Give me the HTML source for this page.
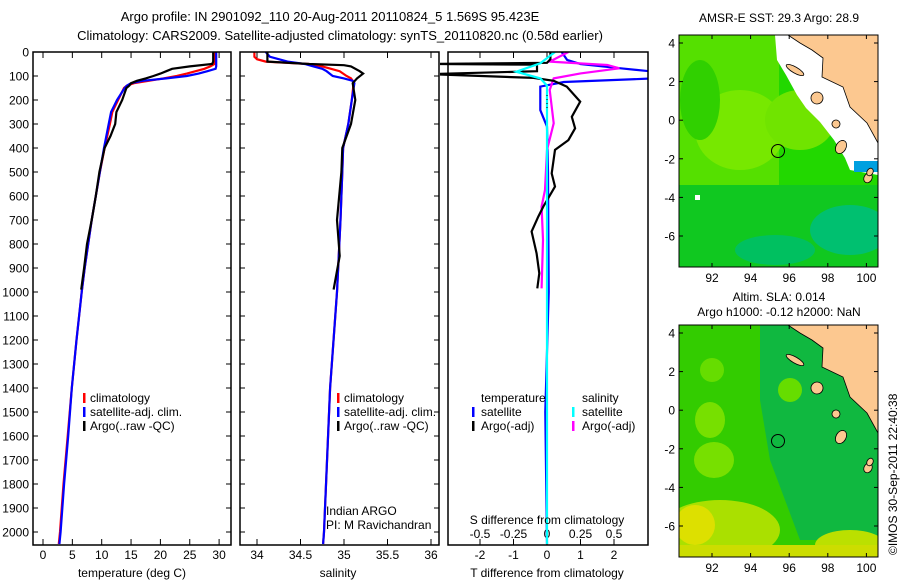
<!DOCTYPE html>
<html><head><meta charset="utf-8"><style>
body{margin:0;background:#fff;}
svg{display:block;font-family:"Liberation Sans",sans-serif;}
text{font-size:12px;fill:#000;}
</style></head><body>
<svg id="c" width="900" height="580" viewBox="0 0 900 580">
<text x="330" y="21" text-anchor="middle" style="font-size:13px">Argo profile: IN 2901092_110 20-Aug-2011 20110824_5 1.569S 95.423E</text>
<text x="340" y="40" text-anchor="middle" style="font-size:13px">Climatology: CARS2009. Satellite-adjusted climatology: synTS_20110820.nc (0.58d earlier)</text>
<g id="maps"></g>
<g id="plots"></g>
</svg>
<script>
const depthT=[0,40,50,60,70,80,90,100,110,120,130,140,150,200,250,300,400,500,600,700,800,900,1000,1200,1400,1600,1800,2000,2050];
const climT=[29.3,29.3,29.2,28.5,27.5,26,24.5,22.8,20.5,18,15.5,14.3,13.8,12.8,11.8,11.4,10.5,9.7,9.0,8.3,7.7,7.1,6.6,5.7,4.9,4.2,3.5,2.9,2.7];
const satT=[29.5,29.5,29.5,29.5,29.4,28,26.5,24.5,21,17,15,14.3,13.9,12.6,11.6,11.2,10.4,9.7,9.0,8.3,7.7,7.1,6.6,5.7,4.9,4.3,3.6,3.0,2.8];
const depthA=[0,40,50,60,70,80,90,100,110,120,130,140,150,200,250,300,350,400,500,600,700,800,900,990];
const argoT=[29,29,28.8,25,22,21,20,18.8,17.5,16,15,14.7,14.2,13.5,12.5,12.3,11.5,10.5,9.6,9.0,8.3,7.5,7.0,6.5];
const depthS=[0,20,30,40,50,60,70,80,100,110,120,130,200,300,400,500,700,1000,1400,2000,2050];
const climS=[33.97,33.97,34.0,34.1,34.6,34.75,34.85,34.95,35.03,35.08,35.1,35.11,35.09,35.05,34.99,34.98,34.96,34.92,34.84,34.77,34.76];
const satS=[34.1,34.15,34.25,34.35,34.55,34.65,34.75,34.8,34.87,35.0,35.1,35.12,35.09,35.05,34.99,34.98,34.96,34.92,34.84,34.77,34.76];
const depthAS=[0,40,50,55,60,80,90,110,130,200,300,400,500,700,850,990];
const argoS=[34.12,34.12,34.6,35.0,35.08,35.18,35.22,35.15,35.1,35.13,35.08,34.98,34.97,34.92,34.95,34.88];
const depthDT=[0,30,45,50,53,80,92,108,120,144,207,270,318,367,408,506,561,644,686,748,839,922,985];
const argoDT=[0.1,0.1,0,-3.5,-0.3,-0.3,-3.5,-0.4,0.2,0.59,0.99,0.74,0.84,0.64,0.24,0.14,0.24,-0.11,-0.26,-0.46,-0.31,-0.23,-0.29];
const depthST=[0,33,50,68,82,110,125,144,242,311,500,1000,1500,2050];
const satDT=[0.44,0.6,1.0,2.2,3.2,3.2,0.5,-0.2,-0.2,0,0.03,0.05,-0.05,0];
const depthSS=[0,47,82,110,140,500,1000,2050];
const satDS=[0.06,-0.05,-0.23,-0.05,0,0,0,0];
const depthAD=[0,40,54,68,89,110,158,297,408,575,644,783,985];
const argoDS=[0.16,0.02,0.45,0.54,0.25,0.05,0.02,0.05,0,-0.015,-0.04,-0.03,-0.04];
const depthTicks=[0,100,200,300,400,500,600,700,800,900,1000,1100,1200,1300,1400,1500,1600,1700,1800,1900,2000];
const tTicks=[0,5,10,15,20,25,30];
const sTicks=[34,34.5,35,35.5,36];
const dtTicks=[-2,-1,0,1,2];
const dsTicks=[-0.5,-0.25,0,0.25,0.5];
const dsLabels=["-0.5","-0.25","0","0.25","0.5"];

const NS="http://www.w3.org/2000/svg";
const plots=document.getElementById('plots');
function mk(tag,at,parent){const e=document.createElementNS(NS,tag);for(const k in at)e.setAttribute(k,at[k]);(parent||plots).appendChild(e);return e;}
const yD=d=>52+d*0.24;
const xT=v=>43+v*5.87;
const xS=v=>257+(v-34)*87;
const xDT=v=>547+v*33.5;
const xDS=v=>547+v*134;
const PT=[33,52,231,545],PS=[240,52,439,545],PD=[448,52,648,545];

function clip(id,p){const cp=mk('clipPath',{id:id});mk('rect',{x:p[0],y:p[1],width:p[2]-p[0],height:p[3]-p[1]},cp);}
clip('cT',PT);clip('cS',PS);clip('cD',[440,52,648,545]);

function frame(p,name){const r=mk('rect',{x:p[0],y:p[1],width:p[2]-p[0],height:p[3]-p[1],fill:'none',stroke:'#000','stroke-width':1.5});

}
function line(ds,vs,fx,col,cp,name,w){
  const pts=ds.map((d,i)=>fx(vs[i]).toFixed(1)+','+yD(d).toFixed(1)).join(' ');
  const l=mk('polyline',{points:pts,fill:'none',stroke:col,'stroke-width':w||2.2,'clip-path':'url(#'+cp+')'});
  
  
}
function xticks(p,ticks,fx,labels,ly,bottom,name){
  ticks.forEach((t,i)=>{const x=fx(t);
    const y0=bottom?p[3]:p[1];const s=bottom?-6:6;
    mk('line',{x1:x,y1:y0,x2:x,y2:y0+s,stroke:'#000'});
    if(bottom||p!==PD) mk('line',{x1:x,y1:bottom?p[1]:p[3],x2:x,y2:(bottom?p[1]:p[3])-s,stroke:'#000'});
    if(labels){const tx=mk('text',{x:x,y:ly,'text-anchor':'middle'});tx.textContent=labels[i];
      
      }
  });
}
function yticks(p,lab){
  depthTicks.forEach(d=>{const y=yD(d);
    mk('line',{x1:p[0],y1:y,x2:p[0]+5,y2:y,stroke:'#000'});
    mk('line',{x1:p[2],y1:y,x2:p[2]-5,y2:y,stroke:'#000'});
    if(lab){const t=mk('text',{x:29,y:y+4.5,'text-anchor':'end'});t.textContent=d;
      
      }
  });
}
yticks(PT,true);
xticks(PT,tTicks,xT,tTicks.map(String),559,true,'temperature-tick-label');
line(depthT,climT,xT,'#f00','cT','climatology-temperature');
line(depthT,satT,xT,'#00f','cT','satellite-temperature');
line(depthA,argoT,xT,'#000','cT','argo-temperature');
frame(PT,'temperature-panel');
yticks(PS,false);
xticks(PS,sTicks,xS,sTicks.map(String),559,true,'salinity-tick-label');
line(depthS,climS,xS,'#f00','cS','climatology-salinity');
line(depthS,satS,xS,'#00f','cS','satellite-salinity');
line(depthAS,argoS,xS,'#000','cS','argo-salinity');
frame(PS,'salinity-panel');
xticks(PD,dtTicks,xDT,dtTicks.map(String),559,true,'t-diff-tick-label');
xticks(PD,dsTicks,xDS,dsLabels,538,false,'s-diff-tick-label');
dsTicks.forEach(t=>{const x=xDS(t);mk('line',{x1:x,y1:PD[3],x2:x,y2:PD[3]-6,stroke:'#000'});});
line(depthST,satDT,xDT,'#00f','cD','satellite-t-diff');
line(depthAD,argoDS,xDS,'#f0f','cD','argo-s-diff');
line(depthDT,argoDT,xDT,'#000','cD','argo-t-diff');
line(depthSS,satDS,xDS,'#0ff','cD','satellite-s-diff');
frame(PD,'difference-panel');
mk('line',{x1:547,y1:95,x2:547,y2:110,stroke:'#000','stroke-dasharray':'1,3'});

const maps=document.getElementById('maps');
function mm(tag,at,name){const e=document.createElementNS(NS,tag);for(const k in at)e.setAttribute(k,at[k]);maps.appendChild(e);
  if(name){
  }return e;}
const lonTicks=[92,94,96,98,100];
const latTicks=[4,2,0,-2,-4,-6];
function map(y0,base,blobs,second){
  const x0=679,x1=878,y1=y0+232;
  const cp=document.createElementNS(NS,'clipPath');cp.setAttribute('id','m'+y0);
  const r=document.createElementNS(NS,'rect');r.setAttribute('x',x0);r.setAttribute('y',y0);r.setAttribute('width',x1-x0);r.setAttribute('height',y1-y0);cp.appendChild(r);maps.appendChild(cp);
  const g=mm('g',{'clip-path':'url(#m'+y0+')'},second?'sla-map':'sst-map');
  const add=(tag,at)=>{const e=document.createElementNS(NS,tag);for(const k in at)e.setAttribute(k,at[k]);g.appendChild(e);return e;};
  add('rect',{x:x0,y:y0,width:x1-x0,height:y1-y0,fill:base});
  blobs.forEach(b=>add(b[0],b[1]));
  const o=y0-35;
  if(!second){add('polygon',{points:[[775,35],[777,60],[786,75],[797,95],[806,108],[820,122],[834,140],[845,158],[850,170],[878,175],[878,35]].map(p=>p[0]+','+(p[1]+o)).join(' '),fill:'#fff'});
    add('rect',{x:854,y:161+o,width:24,height:11,fill:'#00a0e0'});
    add('rect',{x:695,y:195+o,width:5,height:5,fill:'#fff'});}
  add('polygon',{points:[[788,35],[800,43],[812,50],[823,58],[822,77],[843,87],[850,107],[867,123],[878,143],[878,35]].map(p=>p[0]+','+(p[1]+o)).join(' '),fill:'#fcc890',stroke:'#000','stroke-width':0.8});
  [[795,70,10,3],[817,98,6,6],[841,147,5,7],[836,124,4,4],[868,178,4,5],[870,172,3,4]].forEach(e=>add('ellipse',{cx:e[0],cy:e[1]+o,rx:e[2],ry:e[3],fill:'#fcc890',stroke:'#000','stroke-width':0.8,transform:'rotate(30 '+e[0]+' '+(e[1]+o)+')'}));
  add('circle',{cx:778,cy:y0+116,r:6.5,fill:'none',stroke:'#000'});
  mm('rect',{x:x0,y:y0,width:x1-x0,height:y1-y0,fill:'none',stroke:'#000'});
  lonTicks.forEach(l=>{const x=712+(l-92)*19.3;mm('line',{x1:x,y1:y1,x2:x,y2:y1-4,stroke:'#000'});mm('line',{x1:x,y1:y0,x2:x,y2:y0+4,stroke:'#000'});
    const t=mm('text',{x:x,y:y1+15,'text-anchor':'middle'},'map-lon-label');t.textContent=l;});
  latTicks.forEach(l=>{const y=y0+8+(4-l)*19.3;mm('line',{x1:x0,y1:y,x2:x0+4,y2:y,stroke:'#000'});mm('line',{x1:x1,y1:y,x2:x1-4,y2:y,stroke:'#000'});
    const t=mm('text',{x:675,y:y+4.5,'text-anchor':'end'},'map-lat-label');t.textContent=l;});
}
map(35,'#22d800',[
 ['rect',{x:679,y:35,width:100,height:150,fill:'#55e000'}],
 ['ellipse',{cx:740,cy:130,rx:45,ry:40,fill:'#77e800'}],
 ['ellipse',{cx:800,cy:120,rx:35,ry:30,fill:'#70e400'}],
 ['rect',{x:679,y:185,width:200,height:82,fill:'#10c820'}],
 ['ellipse',{cx:850,cy:230,rx:40,ry:25,fill:'#00c070'}],
 ['ellipse',{cx:700,cy:100,rx:20,ry:40,fill:'#30d000'}],
 ['ellipse',{cx:775,cy:250,rx:40,ry:15,fill:'#00c060'}]
],false);
map(325,'#33cc00',[
 ['polygon',{points:'760,325 878,325 878,540 800,540 770,460 760,400',fill:'#10b840'}],
 ['ellipse',{cx:714,cy:460,rx:20,ry:18,fill:'#77e000'}],
 ['ellipse',{cx:710,cy:420,rx:15,ry:18,fill:'#77e000'}],
 ['ellipse',{cx:712,cy:370,rx:12,ry:12,fill:'#66dd00'}],
 ['ellipse',{cx:790,cy:390,rx:12,ry:12,fill:'#66dd00'}],
 ['ellipse',{cx:720,cy:530,rx:60,ry:30,fill:'#aae000'}],
 ['ellipse',{cx:695,cy:525,rx:20,ry:20,fill:'#dde000'}],
 ['ellipse',{cx:850,cy:545,rx:35,ry:15,fill:'#bbe000'}],
 ['rect',{x:679,y:545,width:200,height:15,fill:'#ccdd00'}]
],true);
</script>
<svg style="position:absolute;left:0;top:0" width="900" height="580">
<text x="779" y="22" text-anchor="middle">AMSR-E SST: 29.3 Argo: 28.9</text>
<text x="779" y="301" text-anchor="middle">Altim. SLA: 0.014</text>
<text x="779" y="316" text-anchor="middle">Argo h1000: -0.12 h2000: NaN</text>
<text transform="translate(897,555) rotate(-90)">©IMOS 30-Sep-2011 22:40:38</text>
<text x="132" y="577" text-anchor="middle">temperature (deg C)</text>
<text x="338" y="577" text-anchor="middle">salinity</text>
<text x="547" y="577" text-anchor="middle">T difference from climatology</text>
<text x="547" y="524" text-anchor="middle">S difference from climatology</text>
<g>
<rect x="83" y="393" width="2.5" height="10" fill="#f00"/><text x="90" y="402">climatology</text>
<rect x="83" y="407" width="2.5" height="10" fill="#00f"/><text x="90" y="416">satellite-adj. clim.</text>
<rect x="83" y="421" width="2.5" height="10" fill="#000"/><text x="90" y="430">Argo(..raw -QC)</text>
</g>
<g>
<rect x="337" y="393" width="2.5" height="10" fill="#f00"/><text x="344" y="402">climatology</text>
<rect x="337" y="407" width="2.5" height="10" fill="#00f"/><text x="344" y="416">satellite-adj. clim.</text>
<rect x="337" y="421" width="2.5" height="10" fill="#000"/><text x="344" y="430">Argo(..raw -QC)</text>
</g>
<text x="326" y="515">Indian ARGO</text>
<text x="326" y="529">PI: M Ravichandran</text>
<g>
<text x="481" y="402">temperature</text>
<text x="582" y="402">salinity</text>
<rect x="472" y="407" width="2.5" height="10" fill="#00f"/><text x="481" y="416">satellite</text>
<rect x="572" y="407" width="2.5" height="10" fill="#0ff"/><text x="582" y="416">satellite</text>
<rect x="472" y="421" width="2.5" height="10" fill="#000"/><text x="481" y="430">Argo(-adj)</text>
<rect x="572" y="421" width="2.5" height="10" fill="#f0f"/><text x="582" y="430">Argo(-adj)</text>
</g>
</svg>
</body></html>
